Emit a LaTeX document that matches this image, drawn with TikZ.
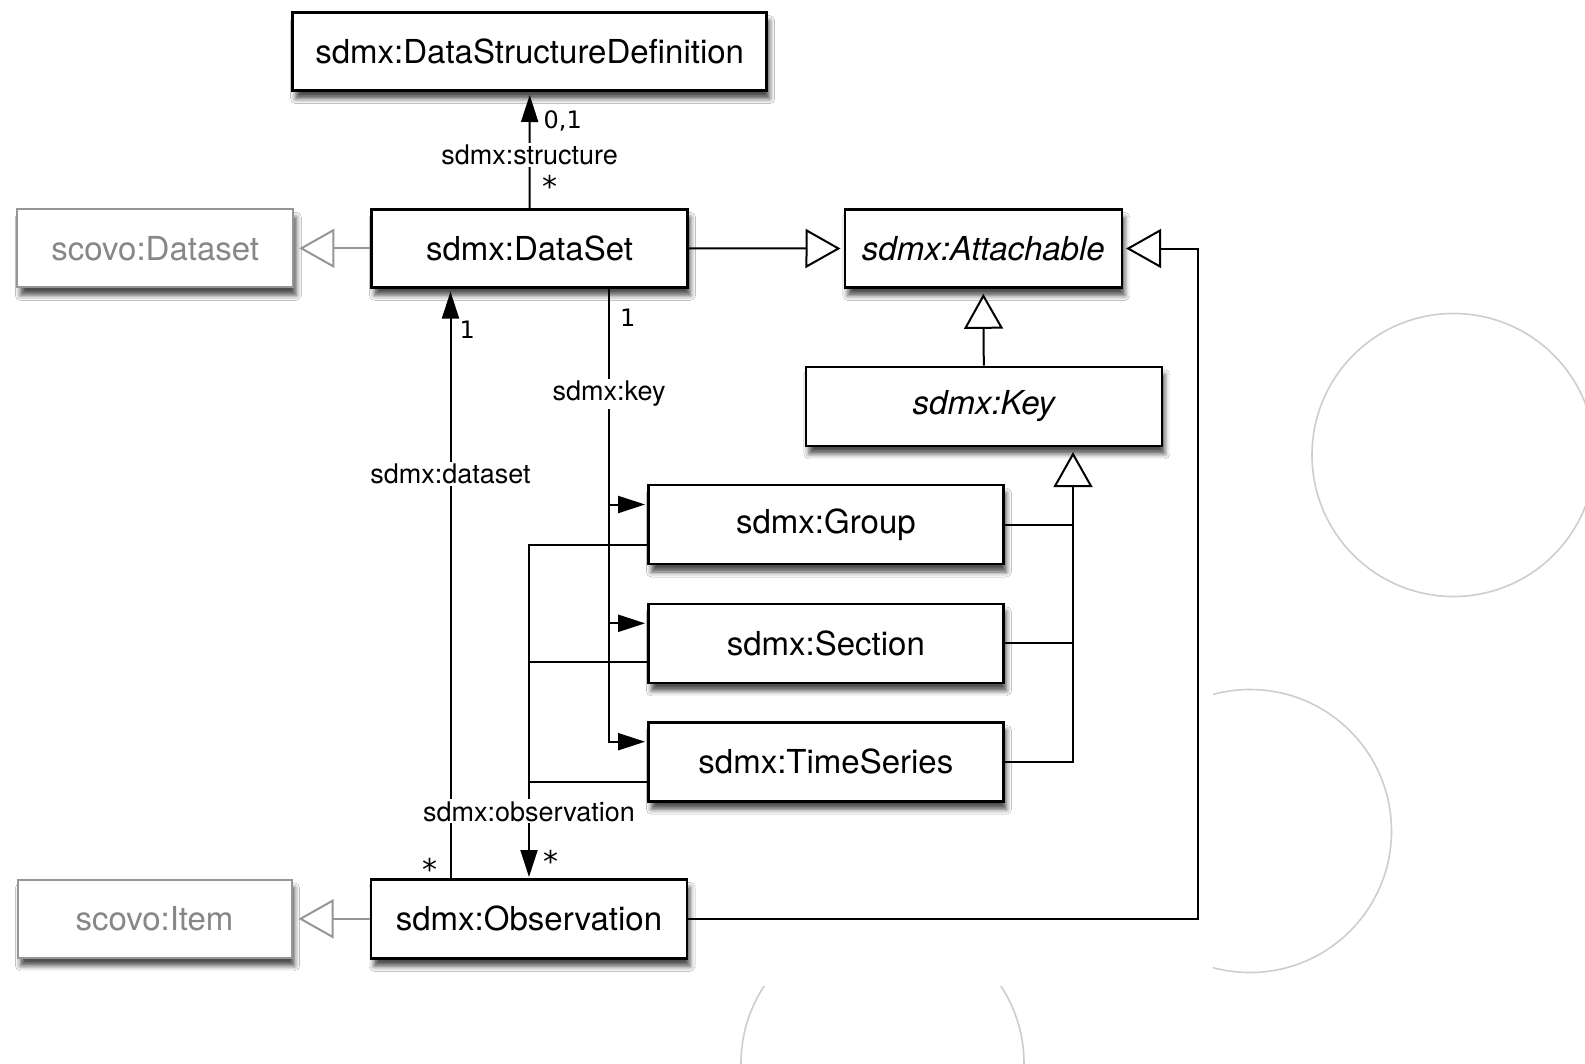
\documentclass[tikz,border=0pt]{standalone}
\usepackage{fontspec}
\setmainfont{TeX Gyre Heros}
\newfontfamily\multfont{DejaVu Sans}
\usetikzlibrary{
    positioning,
    arrows.meta,
    calc,
    shadows.blur
}
\definecolor{scovoGray}{RGB}{150, 150, 150}
\definecolor{ringGray}{RGB}{205, 205, 205}

\begin{document}
\begin{tikzpicture}[x=1pt, y=-1pt,
    cls/.style={draw=black, line width=2.6pt, fill=white, inner sep=0pt,
        minimum height=78pt, font=\fontsize{33}{40}\selectfont,
        blur shadow={shadow xshift=3pt, shadow yshift=-8pt,
            shadow blur radius=5pt, shadow opacity=70}},
    ext/.style={cls, draw=scovoGray, text=scovoGray!90!black, line width=2pt},
    lbl/.style={fill=white, inner sep=2pt, font=\fontsize{27}{32}\selectfont},
    mult/.style={inner sep=0pt, font=\multfont\fontsize{24}{28}\selectfont},
    star/.style={mult, font=\multfont\fontsize{30}{32}\selectfont},
    link/.style={line width=2pt},
    assoc/.style={link, -{Triangle[length=27pt, width=17pt]}},
    gen/.style={link, -{Triangle[length=35pt, width=39pt, fill=white]}}
    ]
    \useasboundingbox (0,0) rectangle (1585,1063);
    \clip (0,0) rectangle (1585,1063);

    % rings behind the panel
    \draw[ringGray, line width=1.6pt] (1453.5,455) circle[radius=141.5];
    \draw[ringGray, line width=1.6pt] (1250,831) circle[radius=141.5];
    \draw[ringGray, line width=1.6pt] (882.5,1063.5) circle[radius=141.5];
    \fill[white] (0,0) rectangle (1213,985.5);

    % classes
    \node[cls, minimum width=474pt] (dsd) at (529.7,51.7) {sdmx:DataStructureDefinition};
    \node[cls, minimum width=316pt] (dataset) at (529.5,248.3) {sdmx:DataSet};
    \node[ext, minimum width=276pt] (scDataset) at (155.3,248.3) {scovo:Dataset};
    \node[cls, minimum width=277pt] (attachable) at (983.3,248.5) {\itshape sdmx:Attachable};
    \node[cls, minimum width=356pt, minimum height=79pt] (key) at (983.8,406.3) {\itshape sdmx:Key};
    \node[cls, minimum width=355pt, minimum height=79pt] (group) at (825.9,524.5) {sdmx:Group};
    \node[cls, minimum width=355pt, minimum height=79pt] (section) at (825.9,643.3) {sdmx:Section};
    \node[cls, minimum width=355pt, minimum height=79pt] (timeSeries) at (825.9,761.7) {sdmx:TimeSeries};
    \node[cls, minimum width=316pt, minimum height=79pt] (observation) at (529,918.8) {sdmx:Observation};
    \node[ext, minimum width=274pt] (scItem) at (154.5,918.8) {scovo:Item};

    \coordinate (dsX) at (450.5,0);
    \coordinate (keyX) at (609,0);
    \coordinate (specX) at (1073,0);
    \coordinate (attX) at (1198,0);

    % generalisations
    \draw[gen, draw=scovoGray, shorten >=5pt] (dataset.west) -- (scDataset.east);
    \draw[gen, draw=scovoGray, shorten >=6pt] (observation.west) -- (scItem.east);
    \draw[gen, shorten >=3pt] (dataset.east) -- (attachable.west);
    \draw[gen, shorten >=5pt] (key.north) -- (attachable.south);
    \draw[gen, shorten >=5pt] (timeSeries.east) -| (key.south -| specX);
    \draw[link] (group.east) -- (group.east -| specX);
    \draw[link] (section.east) -- (section.east -| specX);
    \draw[gen, shorten >=3pt] (observation.east) -- (observation.east -| attX) |- (attachable.east);

    % associations
    \draw[assoc, shorten >=3pt] (dataset.north) --
        node[lbl, pos=0.46] {sdmx:structure}
        node[mult, pos=0.75, anchor=west, xshift=13pt] {0,1}
        node[star, pos=0.19, anchor=west, xshift=12pt] {*} (dsd.south);
    \draw[assoc, shorten >=3pt] (observation.north -| dsX) --
        node[lbl, pos=0.686] {sdmx:dataset}
        node[mult, pos=0.931, anchor=west, xshift=8pt] {1}
        node[star, pos=0.015, anchor=east, xshift=-12pt] {*} (dataset.south -| dsX);
    \draw[assoc, shorten >=2pt] (dataset.south -| keyX) |-
        node[lbl, pos=0.116] {sdmx:key}
        node[mult, pos=0.032, anchor=west, xshift=10pt] {1} ($(timeSeries.west)+(0,-20)$);
    \draw[assoc, shorten >=2pt] ($(group.west -| keyX)+(0,-20)$) -- ($(group.west)+(0,-20)$);
    \draw[assoc, shorten >=2pt] ($(section.west -| keyX)+(0,-20)$) -- ($(section.west)+(0,-20)$);
    \draw[link] ($(section.west)+(0,19)$) -- ($(section.west -| observation.north)+(0,19)$);
    \draw[link] ($(timeSeries.west)+(0,20)$) -- ($(timeSeries.west -| observation.north)+(0,20)$);
    \draw[assoc, shorten >=1pt] ($(group.west)+(0,20.5)$) -|
        node[lbl, pos=0.9, inner xsep=4pt] {sdmx:observation}
        node[star, pos=0.975, anchor=west, xshift=13pt] {*} (observation.north);
\end{tikzpicture}
\end{document}
